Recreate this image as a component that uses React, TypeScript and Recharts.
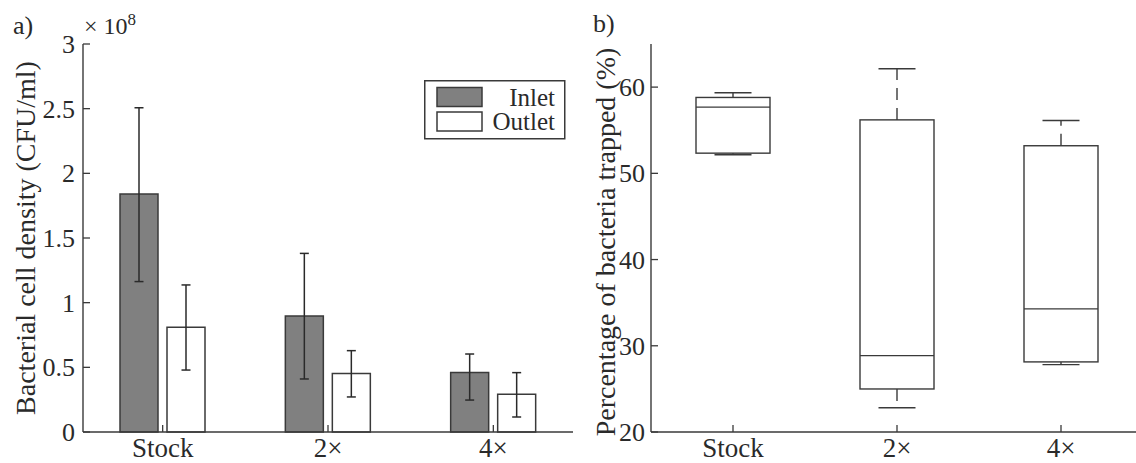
import React from 'react';
import { ComposedChart, Bar, XAxis, YAxis, ErrorBar, Legend } from 'recharts';

// ---------- data ----------
const categories = ['Stock', '2×', '4×'];

// panel a) bacterial cell density (× 10^8 CFU/ml)
const inletMean = [1.84, 0.897, 0.461];
const inletErrLow = [0.677, 0.487, 0.214];
const inletErrHigh = [0.667, 0.484, 0.142];
const outletMean = [0.809, 0.453, 0.291];
const outletErrLow = [0.33, 0.182, 0.175];
const outletErrHigh = [0.328, 0.176, 0.168];
const densityTicks = [0, 0.5, 1, 1.5, 2, 2.5, 3];

// panel b) percentage of bacteria trapped (box plot)
const boxMin = [52.15, 22.82, 27.81];
const boxQ1 = [52.34, 24.99, 28.13];
const boxMedian = [57.68, 28.86, 34.28];
const boxQ3 = [58.8, 56.2, 53.2];
const boxMax = [59.35, 62.13, 56.13];
const percentTicks = [20, 30, 40, 50, 60];

// ---------- style ----------
const FONT = '"Liberation Serif", "Times New Roman", serif';
const INK = '#2a2a2a';
const AXIS = '#3a3a3a';
const INLET_FILL = '#808080';
const OUTLET_FILL = '#ffffff';
const TICK_LEN = 7;
const Y_TICK_MARGIN = 8;
const X_TICK_MARGIN = 25;
const FS = 26;
const FS_CAT = 27;
const FS_TITLE = 28;

const barData = categories.map((cat, i) => ({
  cat,
  inlet: inletMean[i],
  inletErr: [inletErrLow[i], inletErrHigh[i]],
  outlet: outletMean[i],
  outletErr: [outletErrLow[i], outletErrHigh[i]],
}));

const boxData = categories.map((cat, i) => ({
  cat,
  range: [boxMin[i], boxMax[i]],
  min: boxMin[i],
  q1: boxQ1[i],
  median: boxMedian[i],
  q3: boxQ3[i],
  max: boxMax[i],
}));

// ---------- custom ticks ----------
function YTick(props: any) {
  const { x, y, payload, margin } = props;
  const m = margin ?? Y_TICK_MARGIN;
  return (
    <g>
      <line x1={x + m} x2={x + m + TICK_LEN} y1={y} y2={y} stroke={AXIS} strokeWidth={1.3} />
      <text x={x} y={y} dy="0.35em" textAnchor="end" fill={INK} fontFamily={FONT} fontSize={FS}>
        {String(payload.value)}
      </text>
    </g>
  );
}

function XTick(props: any) {
  const { x, y, payload } = props;
  return (
    <g>
      <line
        x1={x}
        x2={x}
        y1={y - X_TICK_MARGIN}
        y2={y - X_TICK_MARGIN - TICK_LEN}
        stroke={AXIS}
        strokeWidth={1.3}
      />
      <text x={x} y={y} textAnchor="middle" fill={INK} fontFamily={FONT} fontSize={FS_CAT}>
        {payload.value}
      </text>
    </g>
  );
}

const EmptyTick = () => <g />;

function axisTitle(text: string, dx: number, dy: number) {
  return {
    content: (p: any) => {
      const vb = p.viewBox || { x: 0, y: 0, width: 0, height: 0 };
      const cx = vb.x + dx;
      const cy = vb.y + vb.height / 2 + dy;
      return (
        <text
          x={cx}
          y={cy}
          transform={`rotate(-90, ${cx}, ${cy})`}
          textAnchor="middle"
          dominantBaseline="central"
          fill={INK}
          fontFamily={FONT}
          fontSize={FS_TITLE}
        >
          {text}
        </text>
      );
    },
  };
}

// ---------- box plot shape ----------
function BoxShape(props: any) {
  const { x, y, width, height, payload } = props;
  if (!payload) return null;
  const top = Math.min(y, y + height);
  const bottom = Math.max(y, y + height);
  const k = (bottom - top) / (payload.max - payload.min);
  const py = (v: number) => bottom - (v - payload.min) * k;
  const cx = x + width / 2;
  const capHalf = width / 4;
  const s = { stroke: AXIS, strokeWidth: 1.4, fill: 'none' };
  return (
    <g>
      <line x1={cx} x2={cx} y1={py(payload.q3)} y2={py(payload.max)} {...s} strokeDasharray="12 8" />
      <line x1={cx} x2={cx} y1={py(payload.q1)} y2={py(payload.min)} {...s} strokeDasharray="12 8" />
      <line x1={cx - capHalf} x2={cx + capHalf} y1={py(payload.max)} y2={py(payload.max)} {...s} />
      <line x1={cx - capHalf} x2={cx + capHalf} y1={py(payload.min)} y2={py(payload.min)} {...s} />
      <rect x={x} y={py(payload.q3)} width={width} height={py(payload.q1) - py(payload.q3)} {...s} />
      <line x1={x} x2={x + width} y1={py(payload.median)} y2={py(payload.median)} {...s} />
    </g>
  );
}

// ---------- legend ----------
function LegendBox(props: any) {
  const payload = (props.payload || []) as any[];
  return (
    <svg width={142} height={60} style={{ display: 'block' }}>
      <rect x={0.75} y={0.75} width={140} height={58} fill="#fff" stroke={AXIS} strokeWidth={1.5} />
      {payload.map((entry, i) => (
        <g key={i}>
          <rect
            x={13}
            y={7.5 + i * 24.5}
            width={45}
            height={19}
            fill={entry.color}
            stroke={AXIS}
            strokeWidth={1.5}
          />
          <text
            x={131}
            y={17 + i * 24.5}
            dy="0.35em"
            textAnchor="end"
            fill={INK}
            fontFamily={FONT}
            fontSize={25}
          >
            {entry.value}
          </text>
        </g>
      ))}
    </svg>
  );
}

const axisLine = { stroke: AXIS, strokeWidth: 1.4 };

function DensityChart() {
  return (
    <ComposedChart
      width={600}
      height={463}
      data={barData}
      margin={{ top: 44, right: 27, bottom: 1, left: 23 }}
      barGap={9}
    >
      <XAxis
        xAxisId="b"
        dataKey="cat"
        height={30}
        padding={{ left: -3, right: -3 }}
        interval={0}
        tickLine={false}
        tickSize={0}
        tickMargin={X_TICK_MARGIN}
        tick={<XTick />}
        axisLine={axisLine}
      />
      <XAxis
        xAxisId="t"
        dataKey="cat"
        orientation="top"
        mirror
        height={0}
        padding={{ left: -3, right: -3 }}
        interval={0}
        tick={EmptyTick}
        tickSize={TICK_LEN}
        tickLine={axisLine}
        axisLine={axisLine}
      />
      <YAxis
        yAxisId="l"
        type="number"
        domain={[0, 3]}
        ticks={densityTicks}
        width={60}
        interval={0}
        tickLine={false}
        tickSize={0}
        tickMargin={Y_TICK_MARGIN}
        tick={<YTick margin={Y_TICK_MARGIN} />}
        axisLine={axisLine}
        label={axisTitle('Bacterial cell density (CFU/ml)', 2, 0)}
      />
      <YAxis
        yAxisId="r"
        type="number"
        orientation="right"
        mirror
        width={0}
        domain={[0, 3]}
        ticks={densityTicks}
        interval={0}
        tick={EmptyTick}
        tickSize={TICK_LEN}
        tickLine={axisLine}
        axisLine={axisLine}
      />
      <Bar
        xAxisId="b"
        yAxisId="l"
        dataKey="inlet"
        name="Inlet"
        barSize={38}
        fill={INLET_FILL}
        stroke={AXIS}
        strokeWidth={1.5}
        isAnimationActive={false}
      >
        <ErrorBar dataKey="inletErr" width={4.5} stroke={INK} strokeWidth={1.5} isAnimationActive={false} />
      </Bar>
      <Bar
        xAxisId="b"
        yAxisId="l"
        dataKey="outlet"
        name="Outlet"
        barSize={38}
        fill={OUTLET_FILL}
        stroke={AXIS}
        strokeWidth={1.5}
        isAnimationActive={false}
      >
        <ErrorBar dataKey="outletErr" width={4.5} stroke={INK} strokeWidth={1.5} isAnimationActive={false} />
      </Bar>
      <Legend
        layout="vertical"
        align="center"
        verticalAlign="middle"
        content={<LegendBox />}
        wrapperStyle={{ position: 'absolute', left: 424, top: 80, width: 142, height: 60 }}
      />
    </ComposedChart>
  );
}

function TrappedChart() {
  return (
    <ComposedChart
      width={620}
      height={463}
      data={boxData}
      margin={{ top: 44, right: 37, bottom: 1, left: 31 }}
    >
      <XAxis
        xAxisId="b"
        dataKey="cat"
        height={30}
        interval={0}
        tickLine={false}
        tickSize={0}
        tickMargin={X_TICK_MARGIN}
        tick={<XTick />}
        axisLine={axisLine}
      />
      <XAxis
        xAxisId="t"
        dataKey="cat"
        orientation="top"
        mirror
        height={0}
        interval={0}
        tick={EmptyTick}
        tickSize={TICK_LEN}
        tickLine={axisLine}
        axisLine={axisLine}
      />
      <YAxis
        yAxisId="l"
        type="number"
        domain={[20, 65]}
        ticks={percentTicks}
        width={60}
        interval={0}
        allowDataOverflow
        tickLine={false}
        tickSize={0}
        tickMargin={Y_TICK_MARGIN - 2}
        tick={<YTick margin={Y_TICK_MARGIN - 2} />}
        axisLine={axisLine}
        label={axisTitle('Percentage of bacteria trapped (%)', 14, 4)}
      />
      <YAxis
        yAxisId="r"
        type="number"
        orientation="right"
        mirror
        width={0}
        domain={[20, 65]}
        ticks={percentTicks}
        interval={0}
        allowDataOverflow
        tick={EmptyTick}
        tickSize={TICK_LEN}
        tickLine={axisLine}
        axisLine={axisLine}
      />
      <Bar
        xAxisId="b"
        yAxisId="l"
        dataKey="range"
        barSize={74}
        shape={<BoxShape />}
        isAnimationActive={false}
      />
    </ComposedChart>
  );
}

export default function App() {
  return (
    <div
      style={{
        position: 'absolute',
        left: 0,
        top: 0,
        width: 1136,
        height: 463,
        overflow: 'hidden',
        background: '#fff',
      }}
    >
      <div style={{ position: 'absolute', left: 0, top: 0 }}>
        <DensityChart />
      </div>
      <div style={{ position: 'absolute', left: 560, top: 0 }}>
        <TrappedChart />
      </div>
      <svg
        width={1136}
        height={463}
        style={{ position: 'absolute', left: 0, top: 0, pointerEvents: 'none' }}
      >
        <text x={13} y={34} fill={INK} fontFamily={FONT} fontSize={FS}>
          a)
        </text>
        <text x={84} y={34} fill={INK} fontFamily={FONT} fontSize={24}>
          × 10
          <tspan dy={-9} fontSize={17}>
            8
          </tspan>
        </text>
        <text x={593} y={32} fill={INK} fontFamily={FONT} fontSize={FS}>
          b)
        </text>
      </svg>
    </div>
  );
}
